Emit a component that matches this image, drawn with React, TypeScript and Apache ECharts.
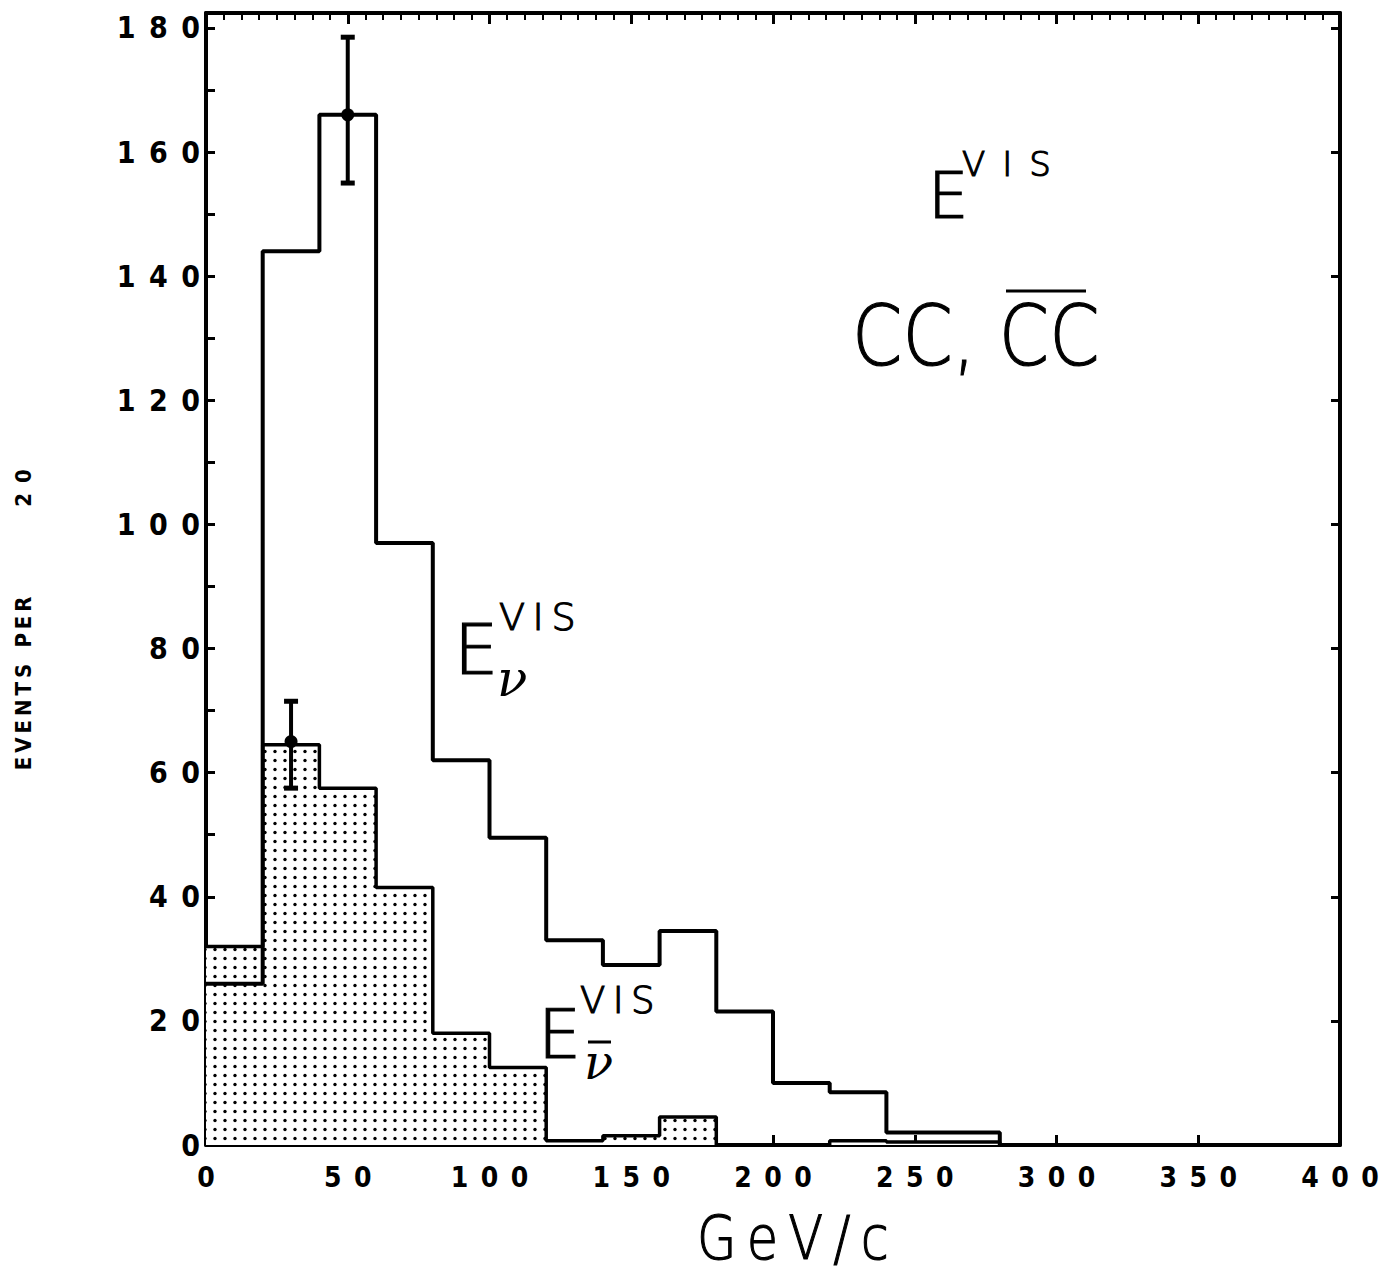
import React, { useEffect, useRef } from "react";
import * as echarts from "echarts";

// Histogram binning (GeV/c)
const BIN_WIDTH = 20;
const binStarts = [0, 20, 40, 60, 80, 100, 120, 140, 160, 180, 200, 220, 240, 260, 280, 300, 320, 340, 360, 380];

// Events per 20 GeV/c bin: neutrino (open outline) and antineutrino (dotted)
const nuCounts = [26, 144, 166, 97, 62, 49.5, 33, 29, 34.5, 21.5, 10, 8.5, 2, 2, 0, 0, 0, 0, 0, 0];
const nubarCounts = [32, 64.5, 57.5, 41.5, 18, 12.5, 0.7, 1.5, 4.5, 0, 0, 0.7, 0.5, 0.5, 0, 0, 0, 0, 0, 0];

// Error bars: [x, value, low, high]
const errorBars = [
  [50, 166, 155, 178.5],
  [30, 65, 57.5, 71.5],
];

// Axis tick labels
const xTickLabels = [0, 50, 100, 150, 200, 250, 300, 350, 400];
const yTickLabels = [0, 20, 40, 60, 80, 100, 120, 140, 160, 180];

const TICK_FONT = "'DejaVu Sans Condensed', 'DejaVu Sans', sans-serif";
const THIN_FONT = "'DejaVu Sans', sans-serif";

const spaced = (v: number) => String(v).split("").join("\u2002");

function stepData(counts: number[]) {
  const pts = counts.map((c, i) => [binStarts[i], c]);
  const last = counts.length - 1;
  pts.push([binStarts[last] + BIN_WIDTH, counts[last]]);
  return pts;
}

function dotPattern() {
  const c = document.createElement("canvas");
  c.width = 10;
  c.height = 9;
  const ctx = c.getContext("2d")!;
  ctx.fillStyle = "#fff";
  ctx.fillRect(0, 0, 10, 9);
  ctx.fillStyle = "#000";
  ctx.beginPath();
  ctx.arc(5, 4.5, 1.7, 0, Math.PI * 2);
  ctx.fill();
  return c;
}

function thinText(x: number, y: number, text: string, size: number, extra: any = {}) {
  return {
    type: "text",
    x,
    y,
    ...extra,
    style: {
      text,
      fill: "#000",
      stroke: "#000",
      lineWidth: 1.2,
      fontFamily: THIN_FONT,
      fontWeight: 200,
      fontSize: size,
      textAlign: "left",
      align: "left",
      textVerticalAlign: "middle",
      verticalAlign: "middle",
    },
  };
}

function nuText(x: number, y: number, size: number) {
  return {
    type: "text",
    x,
    y,
    style: {
      text: "\u03bd",
      fill: "#000",
      fontFamily: "'DejaVu Serif', serif",
      fontStyle: "italic",
      fontSize: size,
      textAlign: "left",
      align: "left",
      textVerticalAlign: "middle",
      verticalAlign: "middle",
    },
  };
}

function rotLabel(y: number, text: string, sep: string) {
  return {
    type: "text",
    x: 23,
    y,
    rotation: Math.PI / 2,
    style: {
      text: text.split("").join(sep),
      fill: "#000",
      fontFamily: TICK_FONT,
      fontWeight: "bold",
      fontSize: 22,
      textAlign: "center",
      align: "center",
      textVerticalAlign: "middle",
      verticalAlign: "middle",
    },
  };
}

export default function App() {
  const ref = useRef<HTMLDivElement>(null);

  useEffect(() => {
    document.body.style.margin = "0";
    const chart = echarts.init(ref.current!, null, { renderer: "svg" });

    const axisLine = { show: true, onZero: false, lineStyle: { color: "#000", width: 4 } };
    const tickStyle = { color: "#000", width: 3 };
    const labelFont = {
      color: "#000",
      fontFamily: TICK_FONT,
      fontWeight: "bold",
    };

    const option: any = {
      animation: false,
      backgroundColor: "#fff",
      grid: { left: 206, right: 50, top: 13, bottom: 129, containLabel: false },
      xAxis: [
        {
          type: "value",
          position: "bottom",
          min: 0,
          max: 400,
          interval: 50,
          axisLine,
          axisTick: { show: true, inside: true, length: 10, lineStyle: tickStyle },
          axisLabel: {
            ...labelFont,
            fontSize: 28,
            margin: 18,
            formatter: (v: number) => (xTickLabels.includes(v) ? spaced(v) : ""),
          },
          splitLine: { show: false },
        },
        {
          type: "value",
          position: "top",
          min: 0,
          max: 400,
          interval: 50,
          axisLine,
          axisTick: { show: true, inside: true, length: 11, lineStyle: tickStyle },
          minorTick: { show: true, splitNumber: 8, length: 7, lineStyle: { color: "#000", width: 2 } },
          axisLabel: { show: false },
          splitLine: { show: false },
        },
      ],
      yAxis: [
        {
          type: "value",
          position: "left",
          min: 0,
          max: 182.4,
          interval: 10,
          axisLine,
          axisTick: { show: true, inside: true, length: 9, lineStyle: tickStyle },
          axisLabel: {
            ...labelFont,
            fontSize: 30,
            margin: 6,
            formatter: (v: number) => (yTickLabels.includes(v) ? spaced(v) : ""),
          },
          splitLine: { show: false },
        },
        {
          type: "value",
          position: "right",
          min: 0,
          max: 182.4,
          interval: 20,
          axisLine,
          axisTick: { show: true, inside: true, length: 9, lineStyle: tickStyle },
          axisLabel: { show: false },
          splitLine: { show: false },
        },
      ],
      series: [
        {
          name: "nubar",
          type: "line",
          step: "end",
          xAxisIndex: 0,
          yAxisIndex: 0,
          data: stepData(nubarCounts),
          symbol: "none",
          lineStyle: { color: "#000", width: 3.5 },
          areaStyle: { color: { image: dotPattern(), repeat: "repeat" }, opacity: 1 },
          z: 2,
        },
        {
          name: "nu",
          type: "line",
          step: "end",
          xAxisIndex: 0,
          yAxisIndex: 0,
          data: stepData(nuCounts),
          symbol: "none",
          lineStyle: { color: "#000", width: 4 },
          z: 3,
        },
        {
          name: "errors",
          type: "custom",
          xAxisIndex: 0,
          yAxisIndex: 0,
          data: errorBars,
          z: 4,
          renderItem: (_params: any, api: any) => {
            const x = api.value(0);
            const pc = api.coord([x, api.value(1)]);
            const pl = api.coord([x, api.value(2)]);
            const ph = api.coord([x, api.value(3)]);
            const s = { stroke: "#000", lineWidth: 4 };
            const cap = 7;
            return {
              type: "group",
              children: [
                { type: "line", shape: { x1: pl[0], y1: pl[1], x2: ph[0], y2: ph[1] }, style: s },
                { type: "line", shape: { x1: ph[0] - cap, y1: ph[1], x2: ph[0] + cap, y2: ph[1] }, style: { ...s, lineWidth: 5 } },
                { type: "line", shape: { x1: pl[0] - cap, y1: pl[1], x2: pl[0] + cap, y2: pl[1] }, style: { ...s, lineWidth: 5 } },
                { type: "circle", shape: { cx: pc[0], cy: pc[1], r: 6.5 }, style: { fill: "#000" } },
              ],
            };
          },
        },
      ],
      graphic: [
        // y-axis title
        rotLabel(717, "EVENTS", "\u2009"),
        rotLabel(622, "PER", "\u2009"),
        rotLabel(488, "20", "\u2002"),
        // x-axis title
        thinText(697, 1238, "G\u2009e\u2009V\u2009/\u2009c", 60, { scaleX: 0.85 }),
        // E^VIS
        thinText(928, 196, "E", 64),
        thinText(962, 164, "V\u2002I\u2002S", 34),
        // CC, CC-bar
        thinText(852, 336, "CC, CC", 84, { scaleX: 0.86 }),
        { type: "line", shape: { x1: 1006, y1: 291, x2: 1086, y2: 291 }, style: { stroke: "#000", lineWidth: 3 } },
        // E_nu^VIS
        thinText(454, 650, "E", 70),
        thinText(499, 617, "V\u2009I\u2009S", 38),
        nuText(497, 679, 50),
        // E_nubar^VIS
        thinText(538, 1034, "E", 68),
        thinText(580, 1000, "V\u2009I\u2009S", 37),
        nuText(584, 1062, 48),
        { type: "line", shape: { x1: 588, y1: 1042, x2: 611, y2: 1042 }, style: { stroke: "#000", lineWidth: 3 } },
      ],
    };

    chart.setOption(option);
    return () => chart.dispose();
  }, []);

  return <div ref={ref} style={{ width: 1390, height: 1274 }} />;
}
